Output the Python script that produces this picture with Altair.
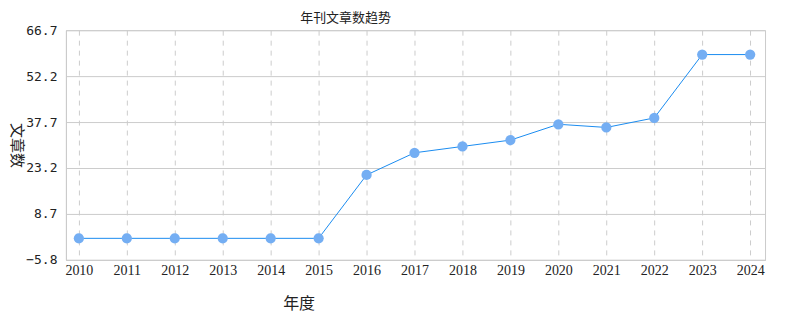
import altair as alt
import pandas as pd

years = list(range(2010, 2025))
counts = [1, 1, 1, 1, 1, 1, 21, 28, 30, 32, 37, 36, 39, 59, 59]
y_ticks = [-5.8, 8.7, 23.2, 37.7, 52.2, 66.7]

df = pd.DataFrame({"year": years, "count": counts})

x_enc = alt.X(
    "year:Q",
    scale=alt.Scale(domain=[2009.73, 2024.31], nice=False, zero=False),
    axis=alt.Axis(
        values=years, format="d", title="年度", grid=True, gridDash=[5, 5],
        gridColor="#cccccc", ticks=False, domain=True, domainColor="#cccccc",
        labelFont="Liberation Serif, Times New Roman, serif", labelFontSize=14,
        labelColor="#222222", labelPadding=4,
        titleFont="Noto Sans CJK SC", titleFontSize=16,
        titleFontWeight="normal", titleColor="#222222", titleX=233, titleY=44,
        titleAlign="center", titleBaseline="middle", labelFlush=False,
    ),
)
y_enc = alt.Y(
    "count:Q",
    scale=alt.Scale(domain=[-5.8, 66.7], nice=False, zero=False),
    axis=alt.Axis(
        values=y_ticks, format=".1f", title="文章数", grid=True, gridColor="#cccccc",
        ticks=False, domain=True, domainColor="#cccccc",
        labelFont="DejaVu Sans Mono", labelFontSize=13, labelColor="#222222",
        labelPadding=9, titleFont="Noto Sans CJK SC", titleFontSize=15,
        titleFontWeight="normal", titleColor="#222222", titleAngle=90,
        titleX=-49, titleY=115, titleAlign="center", titleBaseline="middle",
        labelFlush=False,
    ),
)

base = alt.Chart(df)
line = base.mark_line(color="#1a8cf0", strokeWidth=1).encode(x=x_enc, y=y_enc)
pts = base.mark_point(filled=True, color="#74aef3", opacity=1, size=105, shape="circle").encode(x=x_enc, y=y_enc)

chart = (
    alt.layer(line, pts)
    .properties(
        width=700,
        height=230,
        title=alt.TitleParams(
            "年刊文章数趋势", font="Noto Sans CJK SC", fontSize=13, fontWeight="normal",
            color="#222222", anchor="middle", dx=-70, offset=-1,
        ),
        autosize=alt.AutoSizeParams(type="none"),
        padding={"left": 58, "top": 22, "right": 17, "bottom": 60},
    )
    .configure_view(stroke="#cccccc", strokeWidth=1)
)

chart.save("out.html", embed_options={"renderer": "svg", "actions": False})
